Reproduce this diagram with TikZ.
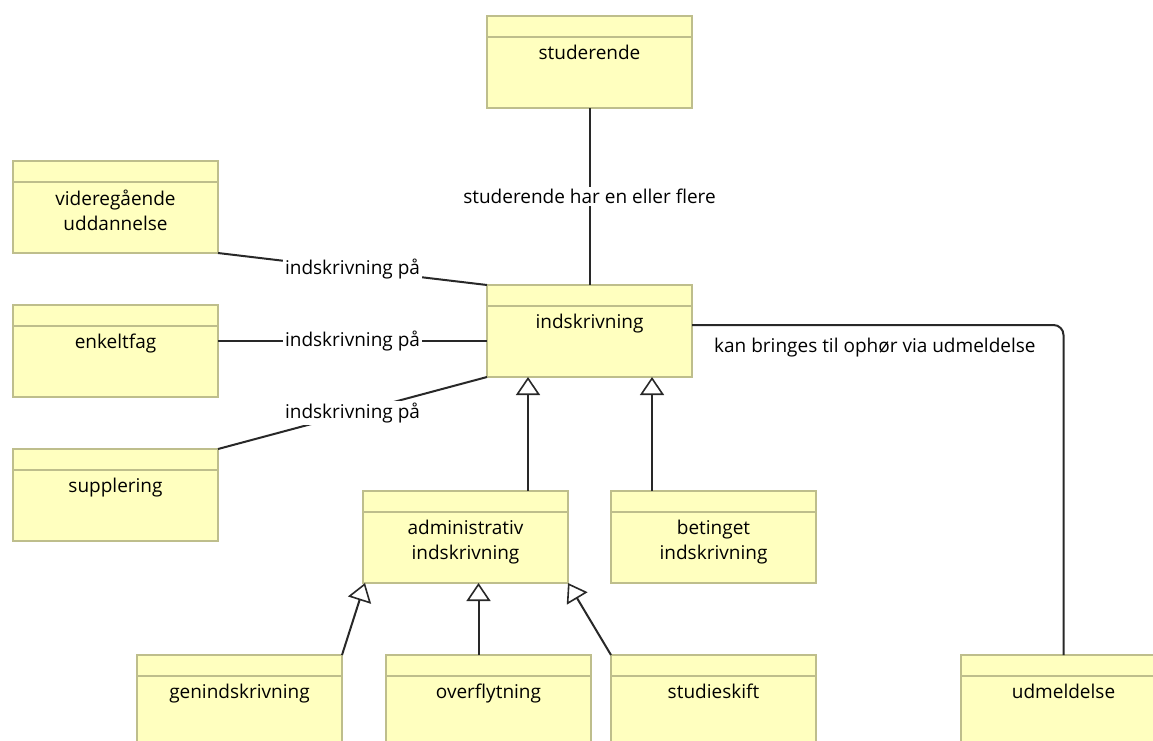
\documentclass[tikz,border=0pt]{standalone}
\usepackage{fontspec}
\setmainfont{Open Sans}
\usetikzlibrary{arrows.meta}
\definecolor{clsfill}{RGB}{255,255,191}
\definecolor{clsline}{RGB}{190,190,140}
\definecolor{wirecol}{RGB}{40,40,40}
\tikzset{
  cls/.style={draw=clsline, fill=clsfill, line width=1.4pt, minimum width=205pt,
    minimum height=92pt, anchor=north west, inner sep=0pt, outer sep=0pt},
  hdr/.style={draw=clsline, line width=1.4pt},
  clsname/.style={anchor=north, align=center, inner sep=0pt,
    font=\fontsize{19}{25}\selectfont},
  wire/.style={draw=wirecol, line width=2pt},
  inherit/.style={wire, -{Triangle[open, length=18pt, width=24pt, line width=1.6pt]}},
  lbl/.style={fill=white, inner sep=2pt, font=\fontsize{19}{22}\selectfont},
}
% class box: name, x, y, caption
\newcommand\umlclass[4]{%
  \node[cls] (#1) at (#2,#3) {};
  \draw[hdr] ([yshift=-21pt]#1.north west) -- ([yshift=-21pt]#1.north east);
  \node[clsname] (#1-t) at ([yshift=-29pt]#1.north) {#4};
}
\begin{document}
\begin{tikzpicture}[x=1pt,y=-1pt]
\useasboundingbox (0,0) rectangle (1153,740);
\clip (0,0) rectangle (1153,740);
\fill[white] (0,0) rectangle (1153,740);

\umlclass{stud}{487}{16}{studerende}
\umlclass{vid}{13}{161}{videregående\\uddannelse}
\umlclass{enk}{13}{305}{enkeltfag}
\umlclass{sup}{13}{449}{supplering}
\umlclass{ind}{487}{285}{indskrivning}
\umlclass{adm}{363}{491}{administrativ\\indskrivning}
\umlclass{bet}{611}{491}{betinget\\indskrivning}
\umlclass{gen}{137}{655}{genindskrivning}
\umlclass{ove}{386}{655}{overflytning}
\umlclass{stu}{611}{655}{studieskift}
\umlclass{udm}{961}{655}{udmeldelse}

% associations
\draw[wire] (stud.south) -- node[lbl] (l-stud) {studerende har en eller flere} (ind.north);
\draw[wire] (vid.south east) -- node[lbl] (l-vid) {indskrivning på} (ind.north west);
\draw[wire] ([yshift=-36pt]enk.north east) -- node[lbl] (l-enk) {indskrivning på} ([yshift=-56pt]ind.north west);
\draw[wire] (sup.north east) -- node[lbl] (l-sup) {indskrivning på} (ind.south west);

\coordinate (ir) at ([yshift=-40pt]ind.north east);
\draw[wire, rounded corners=10pt] (ir) -- (ir -| udm.north) -- (udm.north);
\node[anchor=west, inner sep=0pt, font=\fontsize{19}{22}\selectfont] (l-udm)
  at ([xshift=22pt, yshift=-23pt]ir) {kan bringes til ophør via udmeldelse};

% generalisations
\coordinate (a1) at ([xshift=41pt]ind.south west);
\coordinate (a2) at ([xshift=165pt]ind.south west);
\draw[inherit] (a1 |- adm.north) -- (a1);
\draw[inherit] (a2 |- bet.north) -- (a2);

\coordinate (a3) at ([xshift=-10pt]ove.north);
\draw[inherit] (gen.north east) -- ([xshift=2pt]adm.south west);
\draw[inherit] (a3) -- (a3 |- adm.south);
\draw[inherit] (stu.north west) -- (adm.south east);
\end{tikzpicture}
\end{document}
